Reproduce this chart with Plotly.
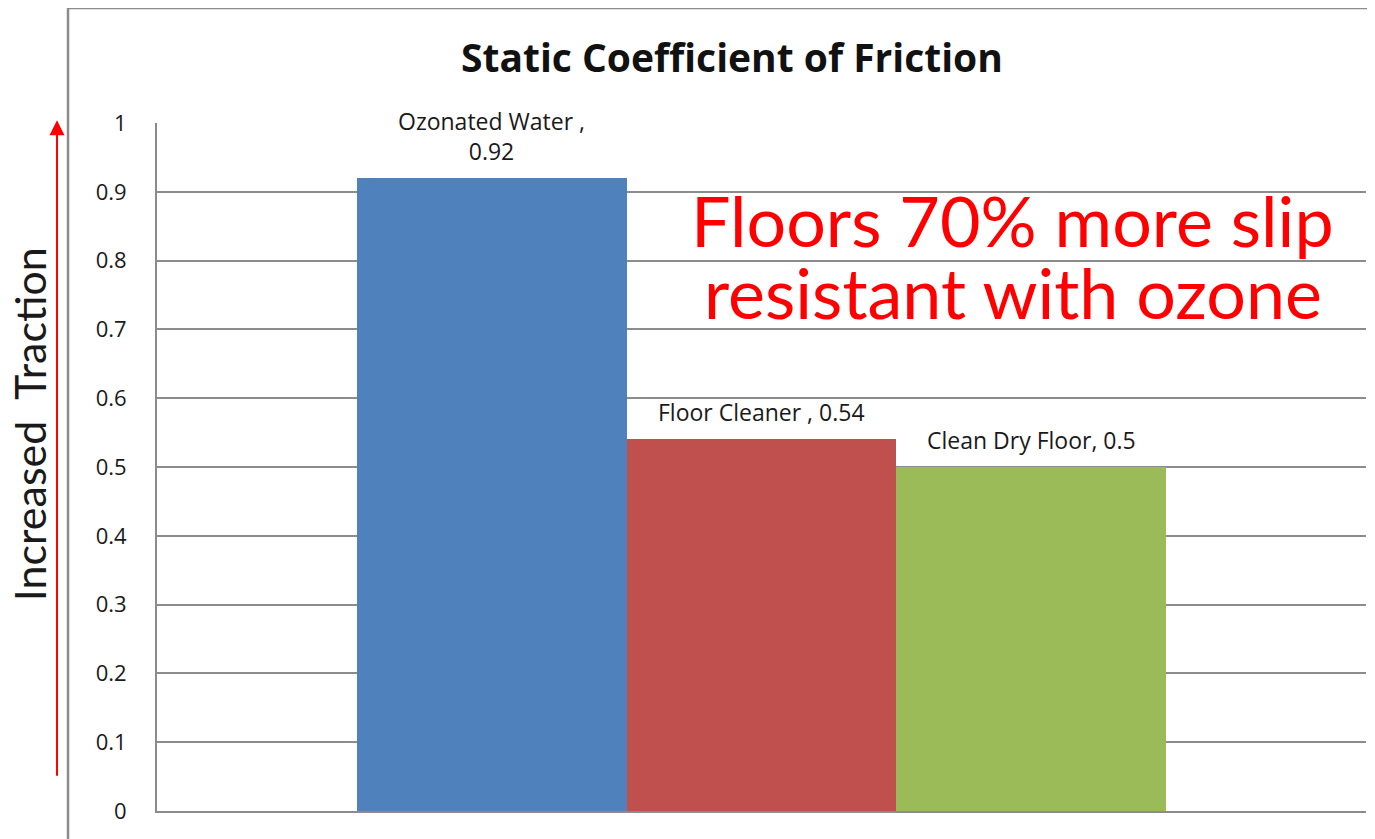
import plotly.graph_objects as go

categories = ["Ozonated Water", "Floor Cleaner", "Clean Dry Floor"]
values = [0.92, 0.54, 0.5]
label_texts = ["Ozonated Water ,<br>0.92", "Floor Cleaner , 0.54", "Clean Dry Floor, 0.5"]
colors = ["#4F81BD", "#C0504D", "#9BBB59"]
y_ticks = [0, 0.1, 0.2, 0.3, 0.4, 0.5, 0.6, 0.7, 0.8, 0.9, 1]
tick_labels = ["0", "0.1", "0.2", "0.3", "0.4", "0.5", "0.6", "0.7", "0.8", "0.9", "1"]

FONT = "Lato"
FONT2 = "Open Sans"

fig = go.Figure()
fig.add_trace(go.Bar(
    x=categories, y=values, marker=dict(color=colors, line=dict(width=0)),
    width=1.0, showlegend=False, hoverinfo="x+y",
))

annotations = []
for c, v, t in zip(categories, values, label_texts):
    annotations.append(dict(
        x=c, y=v, xref="x", yref="y", text=t, showarrow=False,
        yanchor="bottom", yshift=9, font=dict(family=FONT2, size=23, color="#1a1a1a"),
    ))

annotations += [
    dict(text="Static Coefficient of Friction", xref="paper", yref="paper",
         x=0.476, y=1.097, xanchor="center", yanchor="middle", showarrow=False,
         font=dict(family=FONT2, size=39, color="#111111", weight="bold")),
    dict(text="Floors 70% more slip", xref="paper", yref="paper",
         x=0.708, y=0.859, xanchor="center", yanchor="middle", showarrow=False,
         font=dict(family=FONT, size=70, color="#FF0000")),
    dict(text="resistant with ozone", xref="paper", yref="paper",
         x=0.708, y=0.754, xanchor="center", yanchor="middle", showarrow=False,
         font=dict(family=FONT, size=70, color="#FF0000")),
    dict(text="Increased  Traction", xref="paper", yref="paper",
         x=-0.1052, y=0.562, xanchor="center", yanchor="middle", showarrow=False,
         textangle=-90, borderpad=0, font=dict(family=FONT, size=43, color="#1a1a1a")),
    dict(x=-0.0827, y=1.004, ax=0, ay=657, xref="paper", yref="paper",
         axref="pixel", ayref="pixel", text="", showarrow=True,
         arrowhead=2, arrowsize=1.5, arrowwidth=2, arrowcolor="#FF0000"),
]

shapes = [
    dict(type="line", xref="paper", yref="paper", x0=-0.0736, x1=-0.0736, y0=1.167, y1=-0.06,
         line=dict(color="#8c8c8c", width=2.5)),
    dict(type="line", xref="paper", yref="paper", x0=-0.0736, x1=1.02, y0=1.167, y1=1.167,
         line=dict(color="#8c8c8c", width=2.5)),
]

fig.update_layout(
    width=1375, height=839,
    margin=dict(l=149, r=17, t=115, b=36),
    paper_bgcolor="white", plot_bgcolor="white",
    bargap=0,
    xaxis=dict(range=[-1.24, 3.24], showticklabels=False, showgrid=False, zeroline=False,
               showline=True, linecolor="#8c8c8c", linewidth=2, ticks=""),
    yaxis=dict(range=[0, 1], tickvals=y_ticks, ticktext=tick_labels, showgrid=True,
               gridcolor="#8c8c8c", gridwidth=2, zeroline=False, showline=True,
               linecolor="#8c8c8c", linewidth=2, ticks="", ticklabelstandoff=24,
               tickfont=dict(family=FONT2, size=22, color="#1a1a1a")),
    annotations=annotations, shapes=shapes,
)

fig.write_html("out.html")
